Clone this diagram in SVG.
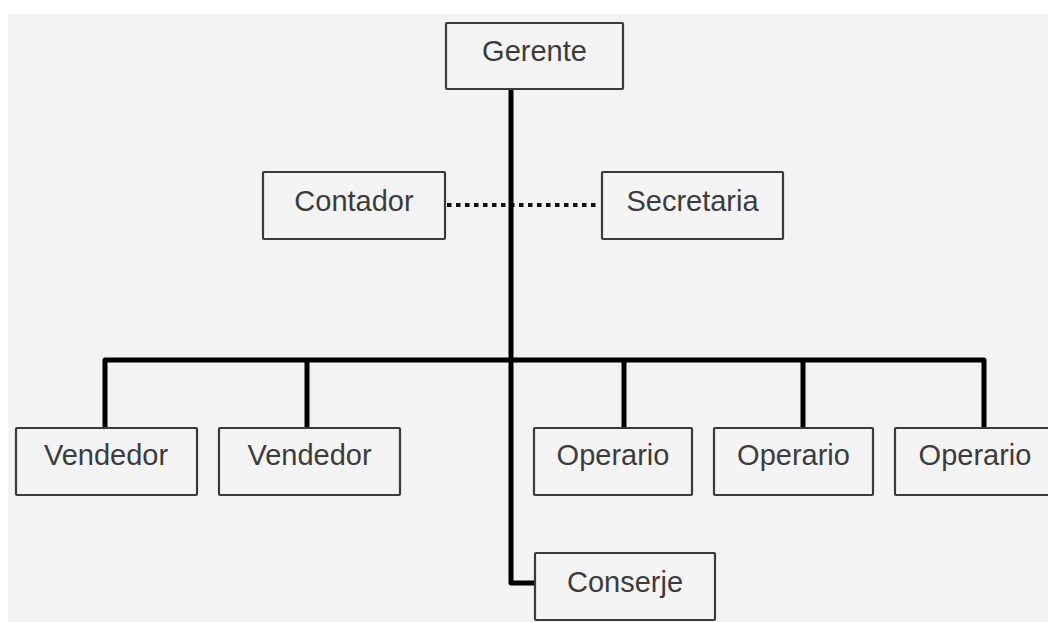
<svg xmlns="http://www.w3.org/2000/svg" width="1048" height="622" viewBox="0 0 1048 622">
  <style>
    .box { fill: #f4f4f4; stroke: #3a3a3a; stroke-width: 2.2; }
    .label { font-family: "Liberation Sans", Arial, sans-serif; font-size: 29px; fill: #3c3c3c; text-anchor: middle; }
    .link { fill: none; stroke: #000; stroke-width: 5; stroke-linejoin: round; }
    .staff { fill: none; stroke: #111; stroke-width: 4; stroke-dasharray: 4.5 4.5; }
  </style>

  <!-- page -->
  <rect x="0" y="0" width="1048" height="622" fill="#ffffff"/>
  <rect x="8" y="14" width="1040" height="608" fill="#f3f3f3"/>

  <!-- connectors -->
  <g id="connectors">
    <path class="staff" d="M447 205 H600"/>
    <path class="link" d="M511 89 V583 H535"/>
    <path class="link" d="M105 428 V360 H984 V428"/>
    <path class="link" d="M307 360 V428"/>
    <path class="link" d="M624 360 V428"/>
    <path class="link" d="M803 360 V428"/>
  </g>

  <g id="gerente">
    <rect class="box" x="446" y="23" width="177" height="66" rx="1"/>
    <text class="label" x="534.5" y="61">Gerente</text>
  </g>

  <g id="contador">
    <rect class="box" x="263" y="172" width="182" height="67" rx="1"/>
    <text class="label" x="354" y="211">Contador</text>
  </g>

  <g id="secretaria">
    <rect class="box" x="602" y="172" width="181" height="67" rx="1"/>
    <text class="label" x="692.5" y="211">Secretaria</text>
  </g>

  <g id="vendedor-1">
    <rect class="box" x="16" y="428" width="181" height="67" rx="1"/>
    <text class="label" x="106" y="465">Vendedor</text>
  </g>

  <g id="vendedor-2">
    <rect class="box" x="219" y="428" width="181" height="67" rx="1"/>
    <text class="label" x="309.5" y="465">Vendedor</text>
  </g>

  <g id="operario-1">
    <rect class="box" x="534" y="428" width="158" height="67" rx="1"/>
    <text class="label" x="613" y="465">Operario</text>
  </g>

  <g id="operario-2">
    <rect class="box" x="714" y="428" width="159" height="67" rx="1"/>
    <text class="label" x="793.5" y="465">Operario</text>
  </g>

  <g id="operario-3">
    <rect class="box" x="895" y="428" width="159" height="67" rx="1"/>
    <text class="label" x="975" y="465">Operario</text>
  </g>

  <g id="conserje">
    <rect class="box" x="535" y="553" width="180" height="67" rx="1"/>
    <text class="label" x="625" y="592">Conserje</text>
  </g>
</svg>
